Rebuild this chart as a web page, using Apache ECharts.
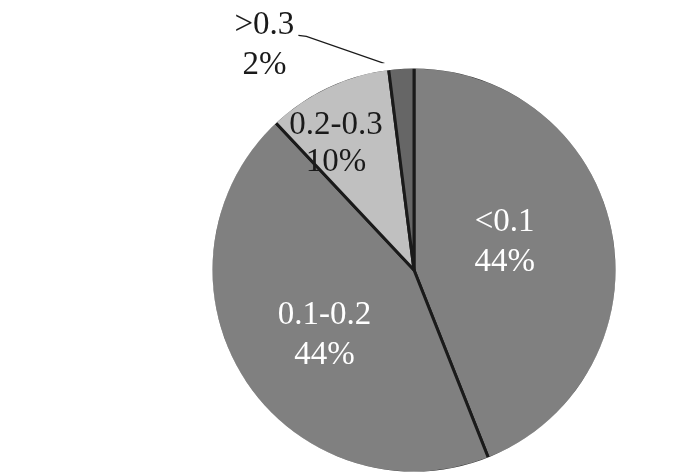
<!DOCTYPE html>
<html><head><meta charset="utf-8">
<script src="https://cdn.jsdelivr.net/npm/echarts@6/dist/echarts.min.js"></script>
<style>html,body{margin:0;padding:0;background:#fff}#c{width:698px;height:475px}</style>
</head><body><div id="c"></div>
<script>
const categories = ['<0.1', '0.1-0.2', '0.2-0.3', '>0.3'];
const values = [44, 44, 10, 2];
const colors = ['#808080', '#808080', '#c0c0c0', '#666666'];
const labelColors = ['#ffffff', '#ffffff', '#1a1a1a', '#1a1a1a'];
const labelOffsets = [[-11, -8], [-2, 10], [-34, -33], [0, 0]];

const chart = echarts.init(document.getElementById('c'), null, {renderer: 'canvas'});
const center = [414, 270];
const R = 201;
const font = {fontFamily: 'Liberation Serif', fontSize: 33, lineHeight: 40};

const baseData = categories.map((n, i) => ({name: n, value: values[i], itemStyle: {color: colors[i]}}));
const labelData = categories.map((n, i) => ({
  name: n, value: values[i],
  label: i === 3
    ? Object.assign({position: 'outside', color: labelColors[i], align: 'center'}, font)
    : Object.assign({position: 'inside', color: labelColors[i], offset: labelOffsets[i]}, font,
        i === 2 ? {lineHeight: 37} : {}),
  labelLine: {show: i === 3, lineStyle: {color: '#1a1a1a', width: 1.2}}
}));

chart.setOption({
  backgroundColor: '#ffffff',
  animation: false,
  series: [
    {
      type: 'pie', center: center, radius: R + 2, startAngle: 90, clockwise: true,
      silent: true, label: {show: false}, labelLine: {show: false},
      itemStyle: {borderColor: '#1a1a1a', borderWidth: 3},
      emphasis: {disabled: true},
      data: baseData
    },
    {
      type: 'pie', center: center, radius: [R + 0.5, R + 8], startAngle: 90,
      silent: true, label: {show: false}, labelLine: {show: false},
      itemStyle: {color: '#ffffff', borderWidth: 0},
      emphasis: {disabled: true},
      data: [{value: 1}]
    },
    {
      type: 'pie', center: center, radius: R, startAngle: 90, clockwise: true,
      silent: true,
      itemStyle: {color: 'rgba(0,0,0,0)', borderWidth: 0},
      emphasis: {disabled: true},
      label: {formatter: '{b}\n{c}%'},
      labelLayout: function (p) {
        if (p.dataIndex !== 3) return {};
        const a = p.labelLinePoints ? p.labelLinePoints[0] : [401, 69];
        return {
          x: a[0] - 137, y: a[1] - 24,
          align: 'center', verticalAlign: 'middle',
          labelLinePoints: [a, [a[0] - 95, a[1] - 33], [a[0] - 103, a[1] - 34]]
        };
      },
      data: labelData
    }
  ]
});
</script></body></html>
